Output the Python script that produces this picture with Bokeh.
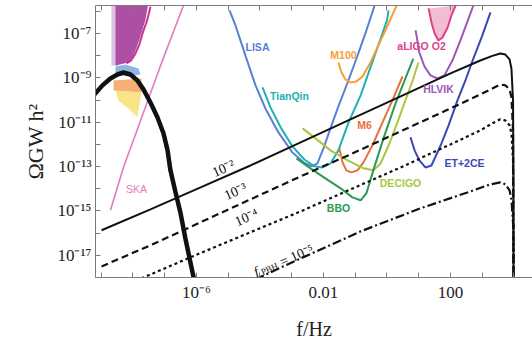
import math
from bokeh.plotting import figure
from bokeh.models import Range1d, FixedTicker, LogAxis, CustomJSTickFormatter, Label
from bokeh.embed import file_html
from bokeh.resources import INLINE

# ---------------- data: log10(f/Hz) and log10(Omega_GW h^2) ----------------
# thick black low-frequency peak
bump_lf = [-9.40, -9.18, -8.96, -8.71, -8.49, -8.30, -8.08, -7.86, -7.67, -7.45, -7.23, -7.04, -6.91, -6.82, -6.66, -6.50, -6.35, -6.19, -6.09, -6.03]
bump_lo = [-10.06, -9.70, -9.34, -9.03, -8.85, -8.76, -8.85, -9.12, -9.52, -10.11, -10.78, -11.50, -12.27, -13.17, -14.16, -15.11, -16.23, -17.32, -18.0, -18.3]

# PBH curves, f_PBH = 1e-2 (solid), 1e-3 (dashed), 1e-4 (dotted), 1e-5 (dash-dot)
pbh2_lf = [-8.99, -7.45, -5.87, -4.30, -2.72, -1.15, 0.43, 2.00, 2.94, 3.32, 3.57, 3.73, 3.86, 3.92, 3.97, 3.985, 3.985]
pbh2_lo = [-15.87, -14.93, -13.94, -12.95, -11.91, -10.87, -9.84, -8.80, -8.22, -8.01, -7.90, -7.95, -8.17, -8.58, -10.02, -14.0, -18.5]
pbh3_lf = [-8.99, -7.45, -5.87, -4.30, -2.72, -1.15, 0.43, 2.00, 2.94, 3.32, 3.57, 3.73, 3.86, 3.92, 3.97, 3.985]
pbh3_lo = [-17.50, -16.55, -15.51, -14.48, -13.44, -12.45, -11.41, -10.38, -9.75, -9.48, -9.30, -9.34, -9.52, -9.88, -11.37, -18.5]
pbh4_lf = [-8.08, -7.67, -6.19, -4.30, -2.72, -1.15, 0.43, 2.00, 2.94, 3.32, 3.57, 3.73, 3.86, 3.92, 3.97, 3.985]
pbh4_lo = [-18.26, -18.0, -17.09, -15.96, -15.02, -14.03, -13.04, -12.00, -11.37, -11.05, -10.87, -10.92, -11.14, -11.50, -12.72, -18.5]
pbh5_lf = [-4.14, -2.72, -0.83, 1.06, 2.63, 3.26, 3.57, 3.73, 3.86, 3.92, 3.985, 3.985]
pbh5_lo = [-18.08, -17.14, -15.92, -14.88, -14.12, -13.80, -13.71, -13.80, -14.07, -14.48, -15.87, -18.5]

# detector sensitivity curves
lisa_lf = [-4.96, -4.77, -4.46, -4.14, -3.83, -3.42, -2.98, -2.63, -2.38, -2.19, -2.00, -1.78, -1.53, -1.24, -0.96, -0.68, -0.39]
lisa_lo = [-5.96, -6.64, -7.99, -9.34, -10.38, -11.46, -12.36, -12.81, -12.99, -12.86, -12.18, -11.28, -10.29, -9.21, -8.13, -7.00, -5.74]
tq_lf = [-3.92, -3.67, -3.35, -2.98, -2.60, -2.28, -2.03, -1.78, -1.53, -1.21, -0.83, -0.52, -0.20, 0.00, 0.05]
tq_lo = [-9.43, -10.33, -11.23, -12.09, -12.68, -12.99, -13.04, -12.86, -12.27, -11.01, -9.79, -8.53, -7.23, -6.41, -5.96]
m100_lf = [-1.53, -1.43, -1.31, -1.15, -0.96, -0.77, -0.52, -0.27, 0.02, 0.33]
m100_lo = [-8.31, -8.76, -9.07, -9.21, -9.16, -8.94, -8.31, -7.54, -6.64, -5.65]
m6_lf = [-1.50, -1.40, -1.28, -1.12, -0.93, -0.74, -0.46, -0.14, 0.17, 0.49]
m6_lo = [-12.18, -12.81, -13.17, -13.26, -13.17, -12.81, -12.05, -11.01, -10.02, -8.94]
decigo_lf = [-2.66, -2.25, -1.78, -1.24, -0.74, -0.43, -0.20, 0.05, 0.33, 0.58, 0.83, 0.99]
decigo_lo = [-11.28, -11.73, -12.27, -12.72, -13.08, -13.17, -12.86, -12.05, -11.01, -10.02, -9.03, -8.31]
bbo_lf = [-2.85, -2.41, -1.94, -1.46, -1.09, -0.83, -0.65, -0.43, -0.11, 0.27, 0.58, 0.83]
bbo_lo = [-12.63, -13.08, -13.53, -13.98, -14.39, -14.52, -14.21, -13.17, -11.73, -10.15, -9.03, -8.13]
hlvik_lf = [0.90, 0.93, 1.02, 1.18, 1.37, 1.59, 1.81, 2.06, 2.31, 2.57, 2.72]
hlvik_lo = [-6.86, -7.09, -7.86, -8.49, -8.89, -9.03, -8.89, -8.22, -7.32, -6.32, -5.74]
aligo_lf = [1.31, 1.40, 1.50, 1.62, 1.75, 1.91, 2.03, 2.16]
aligo_lo = [-5.87, -6.50, -7.00, -7.32, -7.18, -6.73, -6.19, -5.74]
et_lf = [0.74, 0.87, 1.02, 1.21, 1.40, 1.69, 1.94, 2.22, 2.47, 2.72, 2.98, 3.26]
et_lo = [-11.68, -12.27, -12.72, -13.04, -12.95, -12.05, -11.14, -10.02, -9.12, -8.13, -7.18, -6.05]
ska_lf = [-8.71, -8.30, -7.76, -7.13, -6.41]
ska_lo = [-14.97, -13.04, -10.92, -8.44, -5.74]

# PTA-type shaded regions (top left)
lav_lf = [-8.68, -8.46, -8.46, -8.68]
lav_lo = [-5.6, -5.6, -8.44, -8.44]
pur_lf = [-8.49, -7.51, -7.61, -7.76, -7.86, -7.98, -8.14, -8.55, -8.55]
pur_lo = [-5.6, -5.6, -6.41, -7.09, -7.54, -7.99, -8.31, -8.44, -5.6]
mag_lf = [-7.45, -7.55, -7.70, -7.80, -7.92, -8.05, -8.20]
mag_lo = [-5.8, -6.4, -7.0, -7.5, -7.9, -8.2, -8.35]
blue_lf = [-8.55, -8.24, -7.83, -7.76, -8.14, -8.55]
blue_lo = [-8.49, -8.40, -8.58, -8.85, -8.94, -8.85]
orng_lf = [-8.61, -7.73, -7.73, -8.61]
orng_lo = [-9.12, -9.03, -9.66, -9.57]
yell_lf = [-8.55, -7.73, -7.86, -8.14, -8.46]
yell_lo = [-9.57, -9.66, -10.78, -10.38, -10.02]

# ticks
x_tick_exps = list(range(-9, 5))
x_label_exps = [-6, -2, 2]
x_label_text = ["10\u207b\u2076", "0.01", "100"]
y_tick_exps = list(range(-18, -5))
y_label_exps = [-17, -15, -13, -11, -9, -7]
y_label_text = ["10\u207b\u00b9\u2077", "10\u207b\u00b9\u2075", "10\u207b\u00b9\u00b3", "10\u207b\u00b9\u00b9", "10\u207b\u2079", "10\u207b\u2077"]


def P(a):
    return [10.0 ** v for v in a]


p = figure(width=532, height=342, x_axis_type="log", y_axis_type="log",
           x_range=Range1d(10 ** -9.18, 10 ** 4.583), y_range=Range1d(10 ** -18.0, 10 ** -5.74),
           output_backend="svg", toolbar_location=None,
           min_border_left=95, min_border_right=0, min_border_top=5, min_border_bottom=65)
p.xgrid.visible = False
p.ygrid.visible = False
p.outline_line_color = None
p.background_fill_color = "white"
p.border_fill_color = "white"

# shaded regions
p.patch(P(lav_lf), P(lav_lo), fill_color="#dcc3e3", line_color=None)
p.patch(P(pur_lf), P(pur_lo), fill_color="#a8479f", line_color=None, fill_alpha=0.95)
p.line(P(mag_lf), P(mag_lo), line_color="#d0308c", line_width=2)
p.patch(P(blue_lf), P(blue_lo), fill_color="#8fb6e2", line_color=None)
p.patch(P(orng_lf), P(orng_lo), fill_color="#f4a865", line_color=None, fill_alpha=0.9)
p.patch(P(yell_lf), P(yell_lo), fill_color="#f8e27a", line_color=None, fill_alpha=0.9)
p.patch(P(aligo_lf), P(aligo_lo), fill_color="#f2bcd2", line_color=None)

# detector curves
p.line(P(ska_lf), P(ska_lo), line_color="#e07ac0", line_width=1.6)
p.line(P(lisa_lf), P(lisa_lo), line_color="#5a7fd4", line_width=2)
p.line(P(tq_lf), P(tq_lo), line_color="#20b0b4", line_width=2)
p.line(P(m100_lf), P(m100_lo), line_color="#f5a030", line_width=2)
p.line(P(m6_lf), P(m6_lo), line_color="#e8703a", line_width=2)
p.line(P(decigo_lf), P(decigo_lo), line_color="#a8c83c", line_width=2)
p.line(P(bbo_lf), P(bbo_lo), line_color="#2a9a55", line_width=2)
p.line(P(hlvik_lf), P(hlvik_lo), line_color="#9a58b8", line_width=2)
p.line(P(aligo_lf), P(aligo_lo), line_color="#e0408a", line_width=2)
p.line(P(et_lf), P(et_lo), line_color="#3848b8", line_width=2)

# PBH curves
p.line(P(bump_lf), P(bump_lo), line_color="#111111", line_width=4.5)
p.line(P(pbh2_lf), P(pbh2_lo), line_color="#111111", line_width=2)
p.line(P(pbh3_lf), P(pbh3_lo), line_color="#111111", line_width=2.2, line_dash="7 4")
p.line(P(pbh4_lf), P(pbh4_lo), line_color="#111111", line_width=2.2, line_dash="3 3")
p.line(P(pbh5_lf), P(pbh5_lo), line_color="#111111", line_width=2.2, line_dash="9 3 2 3")

# axes
fmt_code = """
const e = Math.round(Math.log10(tick));
const i = exps.indexOf(e);
return i >= 0 ? labels[i] : " ";
"""
xa = p.xaxis[0]
xa.ticker = FixedTicker(ticks=[10.0 ** k for k in x_tick_exps], minor_ticks=[])
xa.formatter = CustomJSTickFormatter(args=dict(exps=x_label_exps, labels=x_label_text), code=fmt_code)
ya = p.yaxis[0]
ya.ticker = FixedTicker(ticks=[10.0 ** k for k in y_tick_exps], minor_ticks=[])
ya.formatter = CustomJSTickFormatter(args=dict(exps=y_label_exps, labels=y_label_text), code=fmt_code)
for ax in (xa, ya):
    ax.major_tick_in = 5
    ax.major_tick_out = 0
    ax.minor_tick_line_color = None
    ax.axis_line_color = "#7a7a7a"
    ax.major_tick_line_color = "#7a7a7a"
    ax.major_label_text_font = "Liberation Serif"
    ax.major_label_text_font_size = "17px"
    ax.major_label_text_color = "#222222"
    ax.axis_label_text_font = "Liberation Serif"
    ax.axis_label_text_font_style = "normal"
    ax.axis_label_text_color = "#222222"
xa.major_label_standoff = 5
ya.major_label_standoff = 4
xa.axis_label = "f/Hz"
xa.axis_label_text_font_size = "20px"
xa.axis_label_standoff = 13
ya.axis_label = "\u03a9GW h\u00b2"
ya.axis_label_text_font_size = "22px"
ya.axis_label_standoff = 6

top = LogAxis(ticker=FixedTicker(ticks=[10.0 ** k for k in x_tick_exps], minor_ticks=[]),
              formatter=CustomJSTickFormatter(code="return ' ';"),
              major_label_text_font_size="1px", major_label_standoff=0,
              major_tick_in=5, major_tick_out=0, minor_tick_line_color=None,
              axis_line_color="#7a7a7a", major_tick_line_color="#7a7a7a")
p.add_layout(top, "above")


def lab(text, wx, wy, size, color="#111111", font="Liberation Sans", style="bold",
        align="center", baseline="middle", angle=0.0):
    p.add_layout(Label(x=wx - 95, y=277 - wy, x_units="screen", y_units="screen", text=text,
                       text_font=font, text_font_size=f"{size}px", text_font_style=style,
                       text_color=color, text_align=align, text_baseline=baseline, angle=angle))


# detector labels
lab("LISA", 257, 46, 10.5, "#5a7fd4")
lab("TianQin", 289, 95, 10.5, "#20b0b4")
lab("M100", 343, 54, 10.5, "#f5a030")
lab("M6", 364, 124, 10.5, "#e8703a")
lab("aLIGO O2", 421, 45, 10.5, "#e0408a")
lab("HLVIK", 438, 88, 10.5, "#9a58b8")
lab("ET+2CE", 464, 162, 10.5, "#3848b8")
lab("DECIGO", 400, 182, 10.5, "#a8c83c")
lab("BBO", 338, 207, 10.5, "#2a9a55")
lab("SKA", 136, 188, 10.5, "#e07ac0", style="normal")

# PBH curve labels
ang = 0.41
lab("10\u207b\u00b2", 223, 168, 14, font="Liberation Serif", style="normal", angle=ang)
lab("10\u207b\u00b3", 235, 191, 14, font="Liberation Serif", style="normal", angle=ang)
lab("10\u207b\u2074", 246, 217, 14, font="Liberation Serif", style="normal", angle=ang)
lab("f", 254, 272, 14, font="Liberation Serif", style="italic", align="left", baseline="alphabetic", angle=ang)
lab("PBH", 261, 272, 9, font="Liberation Serif", style="normal", align="left", baseline="alphabetic", angle=ang)
lab("= 10\u207b\u2075", 280, 262, 14, font="Liberation Serif", style="normal", align="left", baseline="alphabetic", angle=ang)

open("out.html", "w").write(file_html(p, INLINE))
